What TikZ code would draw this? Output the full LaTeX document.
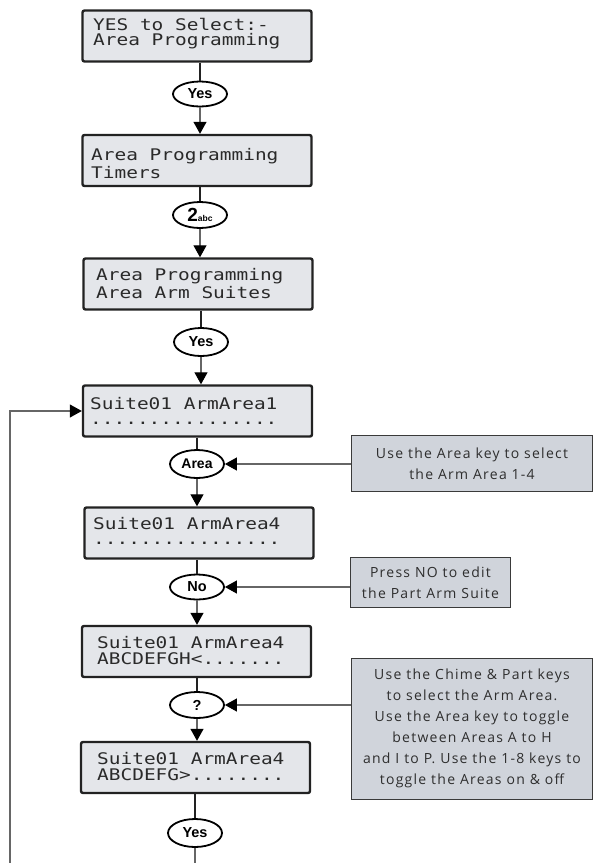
\documentclass[tikz,border=0pt]{standalone}
\usepackage{fontspec}
\usetikzlibrary{shapes.geometric,arrows.meta}
\newfontfamily\lcdfont[FakeStretch=1.215]{DejaVu Sans Mono}
\newfontfamily\keyfont{Liberation Sans}
\newfontfamily\callfont[LetterSpace=9]{Open Sans}
\definecolor{lcdfill}{HTML}{E4E6EA}
\definecolor{lcdline}{HTML}{222222}
\definecolor{lcdtext}{HTML}{2A2A2A}
\definecolor{callfill}{HTML}{D0D4DB}
\definecolor{callline}{HTML}{3A3A3A}
\definecolor{calltext}{HTML}{2E2E2E}
\definecolor{connline}{HTML}{666666}
\begin{document}
\begin{tikzpicture}[x=1pt,y=-1pt,
  lcdbox/.style={draw=lcdline, line width=2.4pt, fill=lcdfill, rounded corners=2pt,
    minimum width=229pt, minimum height=51pt, inner sep=0pt},
  lcdtxt/.style={anchor=base west, inner sep=0pt, text=lcdtext,
    font=\lcdfont\fontsize{16}{16}\selectfont},
  keynode/.style={ellipse, draw=black, line width=1.8pt, fill=white, inner sep=0pt,
    minimum width=54pt, minimum height=25pt,
    font=\keyfont\bfseries\fontsize{14.5}{14.5}\selectfont},
  callout/.style={draw=callline, line width=0.9pt, fill=callfill, align=center,
    inner sep=0pt, text=calltext, font=\callfont\fontsize{14}{21}\selectfont},
  stem/.style={draw=lcdline, line width=2pt},
  flow/.style={draw=connline, line width=1.1pt,
    -{Triangle[length=12pt,width=13pt,color=black]}},
  conn/.style={draw=connline, line width=1.1pt,
    -{Triangle[length=12pt,width=13pt,color=black]}},
  plain/.style={draw=connline, line width=1.1pt}
]
\useasboundingbox (0,0) rectangle (595,863);

% LCD boxes
\node[lcdbox] (B1) at (197,36) {};
\node[lcdbox] (B2) at (197,160.5) {};
\node[lcdbox] (B3) at (198,284) {};
\node[lcdbox] (B4) at (197.5,411) {};
\node[lcdbox] (B5) at (199,533) {};
\node[lcdbox] (B6) at (196.5,651.5) {};
\node[lcdbox] (B7) at (195.5,767.5) {};

% LCD texts
\node[lcdtxt] (t1a) at (93,30) {YES to Select:-};
\node[lcdtxt] (t1b) at (93,45.5) {Area Programming};
\node[lcdtxt] (t2a) at (91,160) {Area Programming};
\node[lcdtxt] (t2b) at (91,178) {Timers};
\node[lcdtxt] (t3a) at (96,280) {Area Programming};
\node[lcdtxt] (t3b) at (96,298) {Area Arm Suites};
\node[lcdtxt] (t4a) at (90,409) {Suite01 ArmArea1};
\node[lcdtxt] (t4b) at (90,424.5) {................};
\node[lcdtxt] (t5a) at (93,529) {Suite01 ArmArea4};
\node[lcdtxt] (t5b) at (93,544.5) {................};
\node[lcdtxt] (t6a) at (97,648) {Suite01 ArmArea4};
\node[lcdtxt] (t6b) at (97,664) {ABCDEFGH<.......};
\node[lcdtxt] (t7a) at (97,764) {Suite01 ArmArea4};
\node[lcdtxt] (t7b) at (97,780) {ABCDEFG>........};

% keys
\node[keynode] (E1) at (200,94) {Yes};
\node[keynode, minimum height=26pt] (E2) at (200,215) {{\fontsize{19}{19}\selectfont 2}{\fontsize{8.5}{8.5}\selectfont abc}};
\node[keynode, minimum height=28pt] (E3) at (201,342) {Yes};
\node[keynode, minimum height=28pt, font=\keyfont\bfseries\fontsize{14}{14}\selectfont] (E4) at (197,464) {Area};
\node[keynode, minimum height=25pt] (E5) at (197,587) {No};
\node[keynode, minimum height=26pt] (E6) at (197,705) {?};
\node[keynode, minimum height=28pt] (E7) at (195,833) {Yes};

% callouts
\node[callout, minimum width=241pt, minimum height=56pt] (C1) at (472,463.5)
  {Use the Area key to select\\the Arm Area 1-4};
\node[callout, minimum width=160pt, minimum height=50pt] (C2) at (430.5,582.5)
  {Press NO to edit\\the Part Arm Suite};
\node[callout, minimum width=241pt, minimum height=141pt] (C3) at (472,728.5)
  {Use the Chime \& Part keys\\to select the Arm Area.\\Use the Area key to toggle\\between Areas A to H\\and I to P. Use the 1-8 keys to\\toggle the Areas on \& off};

% stems from boxes to keys
\draw[stem] (E1.north |- B1.south) -- (E1.north);
\draw[stem] (E2.north |- B2.south) -- (E2.north);
\draw[stem] (E3.north |- B3.south) -- (E3.north);
\draw[stem] (E4.north |- B4.south) -- (E4.north);
\draw[stem] (E5.north |- B5.south) -- (E5.north);
\draw[stem] (E6.north |- B6.south) -- (E6.north);
\draw[stem] (E7.north |- B7.south) -- (E7.north);

% arrows from keys to boxes
\draw[flow] (E1.south) -- (E1.south |- B2.north);
\draw[flow] (E2.south) -- (E2.south |- B3.north);
\draw[flow] (E3.south) -- (E3.south |- B4.north);
\draw[flow] (E4.south) -- (E4.south |- B5.north);
\draw[flow] (E5.south) -- (E5.south |- B6.north);
\draw[flow] (E6.south) -- (E6.south |- B7.north);

% callout connectors
\draw[conn] (C1.west |- E4.east) -- (E4.east);
\draw[conn] (C2.west |- E5.east) -- (E5.east);
\draw[conn] (C3.west |- E6.east) -- (E6.east);

% loop back
\coordinate (fb) at (10,863);
\coordinate (bot) at (193,863);
\draw[conn] (fb) |- (B4.west);
\draw[plain] (E7.south) -- (E7.south |- bot);
\end{tikzpicture}
\end{document}
